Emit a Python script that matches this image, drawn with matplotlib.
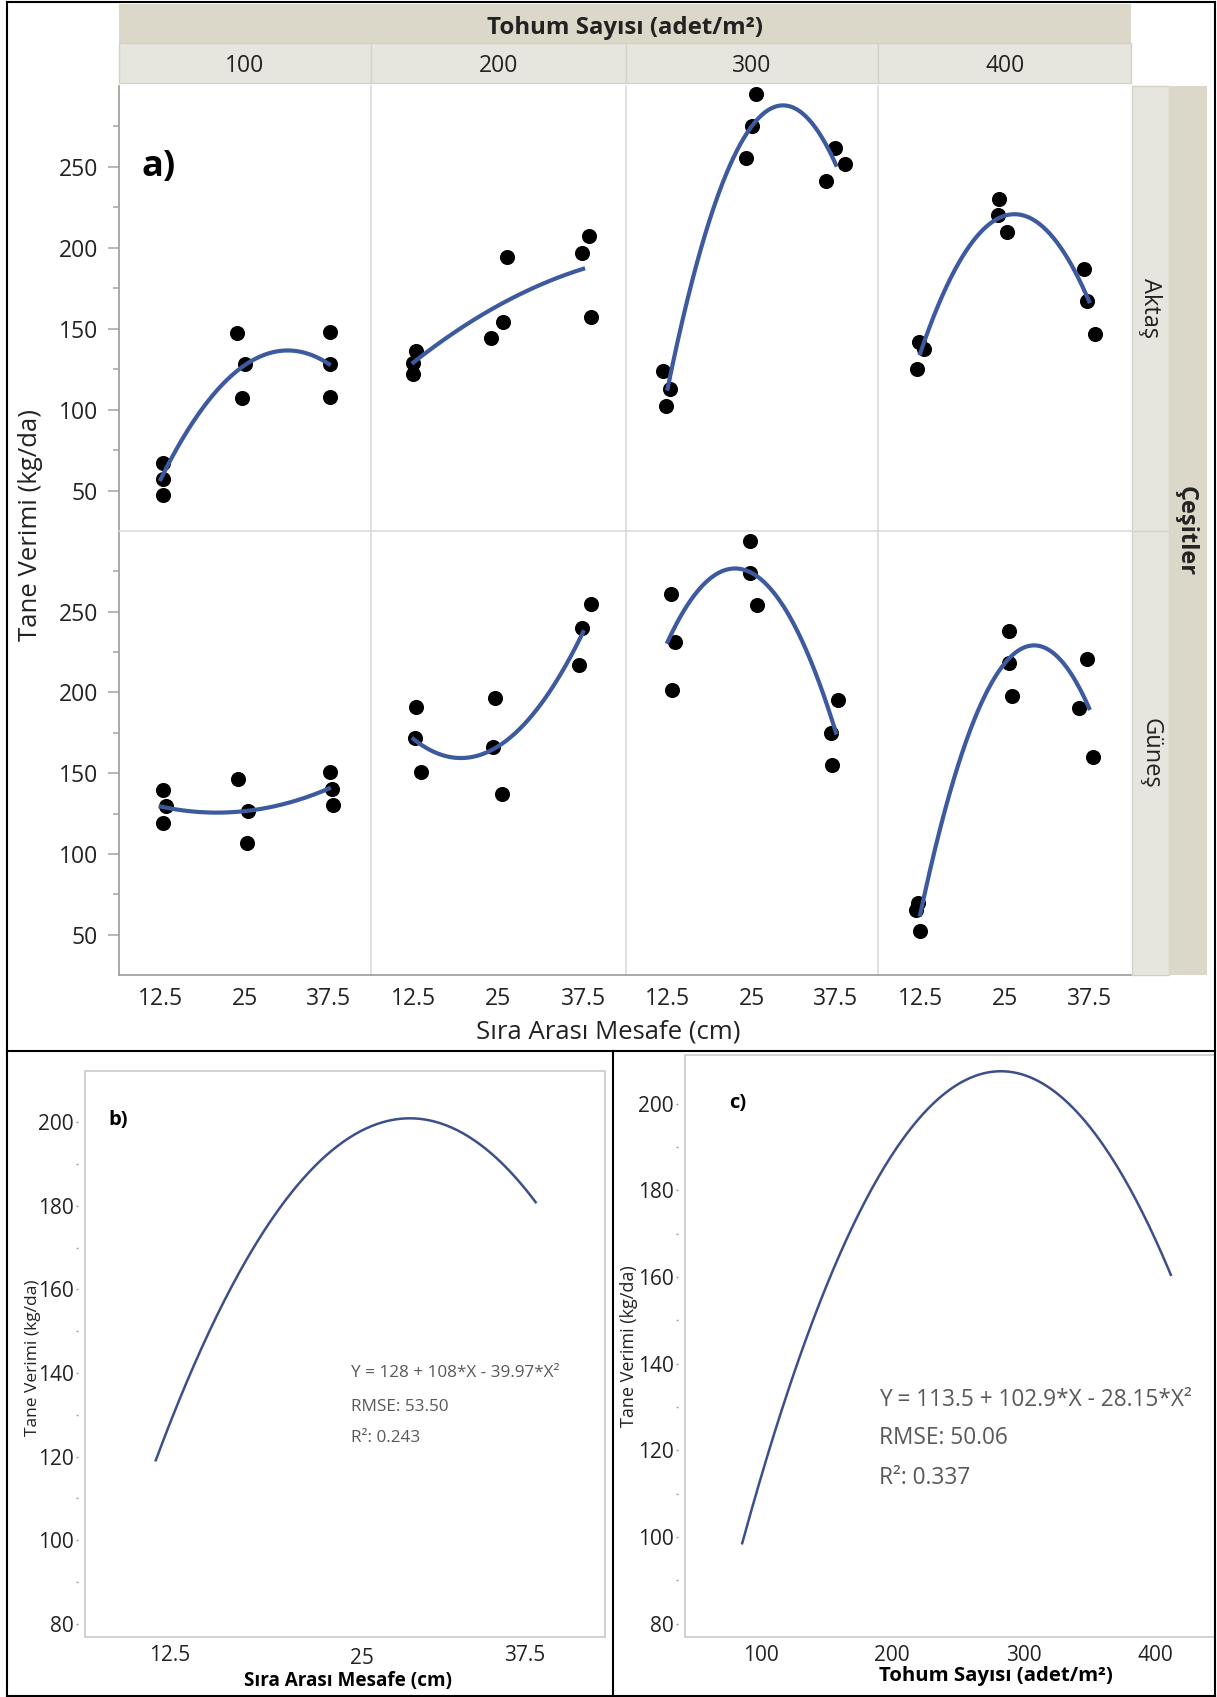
from __future__ import annotations

import matplotlib

matplotlib.use("Agg")
import matplotlib.pyplot as plt
import matplotlib.transforms as mtransforms
import numpy as np
from matplotlib.patches import Rectangle
from matplotlib.ticker import FixedLocator

plt.rcParams["font.family"] = ["Open Sans", "DejaVu Sans"]

# ---------------------------------------------------------------------------
# Data
# ---------------------------------------------------------------------------

seed_counts = [100, 200, 300, 400]          # Tohum Sayısı (adet/m2)
varieties = ["Aktaş", "Güneş"]              # Çeşitler
row_spacing = [12.5, 25, 37.5]              # Sıra Arası Mesafe (cm)
spacing_labels = ["12.5", "25", "37.5"]

# Tane verimi (kg/da), three plots per spacing: [12.5 x3, 25 x3, 37.5 x3]
aktas_100 = [67, 57, 47, 147.5, 128, 107, 148, 128.5, 108]
aktas_200 = [136.5, 129, 122, 194.5, 154, 144.5, 207, 197, 157]
aktas_300 = [124, 113, 102, 295, 275, 255.5, 261.5, 251.5, 241]
aktas_400 = [142, 137.5, 125, 230, 220, 209.5, 187, 167, 147]
gunes_100 = [139.5, 129.5, 119, 146.5, 126.5, 106.5, 150.5, 140.5, 130.5]
gunes_200 = [191, 171.5, 151, 196.5, 166.5, 137, 255, 240, 217]
gunes_300 = [261, 231.5, 201.5, 294, 274, 254, 195.5, 175, 155]
gunes_400 = [69.5, 65.5, 52.5, 238, 218, 198, 220.5, 190.5, 160]

# horizontal jitter of the dots (cm), same order as above
aktas_100_jit = [0.3, 0.3, 0.3, -1.1, 0.0, -0.4, 0.1, 0.2, 0.1]
aktas_200_jit = [0.4, 0.0, 0.0, 1.3, 0.7, -1.1, 0.8, -0.1, 1.1]
aktas_300_jit = [-0.7, 0.35, -0.25, 0.6, 0.1, -0.9, -0.1, 1.4, -1.4]
aktas_400_jit = [-0.2, 0.5, -0.5, -0.8, -1.0, 0.3, -0.7, -0.3, 0.9]
gunes_100_jit = [0.3, 0.8, 0.3, -1.0, 0.5, 0.4, 0.1, 0.4, 0.6]
gunes_200_jit = [0.4, 0.3, 1.1, -0.5, -0.8, 0.5, 1.1, -0.2, -0.6]
gunes_300_jit = [0.5, 1.1, 0.6, -0.2, -0.3, 0.8, 0.3, -0.8, -0.6]
gunes_400_jit = [-0.35, -0.6, 0.0, 0.6, 0.6, 1.1, -0.35, -1.5, 0.65]

# b) / c) quadratic models: Y = a + b*X + c*X^2 (X coded 0, 1, 2, ...)
b_coef = [128, 108, -39.97]
b_rmse, b_r2 = 53.50, 0.243
b_X_span = [-0.08, 2.06]
b_xticks = [12.5, 25, 37.5]

c_coef = [113.5, 102.9, -28.15]
c_rmse, c_r2 = 50.06, 0.337
c_X_span = [-0.14, 3.12]
c_xticks = [100, 200, 300, 400]

yticks_a = [50, 100, 150, 200, 250]
yticks_bc = [80, 100, 120, 140, 160, 180, 200]

# ---------------------------------------------------------------------------
# Style
# ---------------------------------------------------------------------------

W, H = 1217, 1697
TXT = "#222222"
AXIS_GRAY = "#a3a3a3"
SEP_GRAY = "#dadada"
FRAME_GRAY = "#c9c9c9"
STRIP_DARK = "#dbd8c9"
STRIP_LIGHT = "#e7e6de"
STRIP_EDGE = "#d4d2c6"
CURVE_A = "#3d5a9f"
CURVE_BC = "#3c4f8a"
EQ_GRAY = "#595959"

COL_EDGES = [118.6, 371.0, 625.5, 878.0, 1131.3]
ROW_EDGES = [86.0, 531.0, 975.0]

fig = plt.figure(figsize=(W / 100, H / 100), dpi=100)


def _px_axes(left, top, right, bottom):
    """Axes placed by pixel edges (origin top-left)."""
    return fig.add_axes([left / W, 1 - bottom / H, (right - left) / W, (bottom - top) / H])


def _model_text(coef, rmse, r2):
    a, b, c = coef
    return [f"Y = {a:g} + {b:g}*X - {abs(c):g}*X²", f"RMSE: {rmse:.2f}", f"R²: {r2:.3f}"]


# ---------------------------------------------------------------------------
# a) faceted scatter + quadratic fit
# ---------------------------------------------------------------------------

yields = {
    ("Aktaş", 100): (aktas_100, aktas_100_jit),
    ("Aktaş", 200): (aktas_200, aktas_200_jit),
    ("Aktaş", 300): (aktas_300, aktas_300_jit),
    ("Aktaş", 400): (aktas_400, aktas_400_jit),
    ("Güneş", 100): (gunes_100, gunes_100_jit),
    ("Güneş", 200): (gunes_200, gunes_200_jit),
    ("Güneş", 300): (gunes_300, gunes_300_jit),
    ("Güneş", 400): (gunes_400, gunes_400_jit),
}

x_rep = np.repeat(row_spacing, 3)
xs_fit = np.linspace(row_spacing[0], row_spacing[-1], 200)

for r, var in enumerate(varieties):
    for c, seed in enumerate(seed_counts):
        y, jit = yields[(var, seed)]
        ax = _px_axes(COL_EDGES[c], ROW_EDGES[r], COL_EDGES[c + 1], ROW_EDGES[r + 1])
        ax.set_facecolor("none")

        coef = np.polyfit(x_rep, y, 2)
        ax.scatter(x_rep + np.asarray(jit), y, s=118, color="black", linewidths=0, zorder=2)
        ax.plot(xs_fit, np.polyval(coef, xs_fit), color=CURVE_A, lw=3, zorder=3)

        ax.set_xlim(6.25, 43.75)
        ax.set_ylim(25, 300)

        for side in ("top", "right", "bottom"):
            ax.spines[side].set_visible(False)
        ax.spines["left"].set_color(AXIS_GRAY if c == 0 else SEP_GRAY)
        ax.spines["left"].set_linewidth(1.3 if c == 0 else 1.2)
        if r == 1:
            ax.spines["top"].set_visible(True)
            ax.spines["top"].set_color(SEP_GRAY)
            ax.spines["top"].set_linewidth(1.2)
            ax.spines["bottom"].set_visible(True)
            ax.spines["bottom"].set_color(AXIS_GRAY)
            ax.spines["bottom"].set_linewidth(1.3)

        if c == 0:
            ax.set_yticks(yticks_a)
            ax.yaxis.set_minor_locator(FixedLocator([75, 125, 175, 225, 275]))
            ax.tick_params(axis="y", which="major", length=8, width=1.1, color=AXIS_GRAY,
                           labelsize=16.5, labelcolor=TXT, pad=7)
            ax.tick_params(axis="y", which="minor", length=4, width=1.1, color=AXIS_GRAY)
        else:
            ax.tick_params(axis="y", which="both", left=False, labelleft=False)

        if r == 1:
            ax.set_xticks(row_spacing, spacing_labels)
            ax.tick_params(axis="x", length=0, pad=8.5, labelsize=16.5, labelcolor=TXT)
        else:
            ax.set_xticks([])

# ---------------------------------------------------------------------------
# b) yield vs row spacing
# ---------------------------------------------------------------------------

axb = _px_axes(84.5, 1070.5, 605, 1637)
Xb = np.linspace(b_X_span[0], b_X_span[1], 200)
axb.plot(12.5 * (1 + Xb), np.polyval(b_coef[::-1], Xb), color=CURVE_BC, lw=1.8)
axb.set_xlim(6.48, 43.13)
axb.set_ylim(76.8, 212.4)

# ---------------------------------------------------------------------------
# c) yield vs seed count
# ---------------------------------------------------------------------------

axc = _px_axes(685, 1054.5, 1215, 1637)
Xc = np.linspace(c_X_span[0], c_X_span[1], 200)
axc.plot(100 * (1 + Xc), np.polyval(c_coef[::-1], Xc), color=CURVE_BC, lw=1.8)
axc.set_xlim(42.5, 445.6)
axc.set_ylim(76.9, 211.4)

for ax_, out_pt, xt, xpad in ((axb, 4.9, b_xticks, 6.0), (axc, 5.4, c_xticks, 5.5)):
    for side in ("top", "right", "bottom", "left"):
        ax_.spines[side].set_visible(False)
    ax_.spines["left"].set_position(("outward", out_pt))
    ax_.add_patch(Rectangle((0, 0), 1, 1, transform=ax_.transAxes, fill=False,
                            ec=FRAME_GRAY, lw=1.2, clip_on=False))
    ax_.set_yticks(yticks_bc)
    ax_.yaxis.set_minor_locator(FixedLocator([90, 110, 130, 150, 170, 190]))
    ax_.tick_params(axis="y", which="both", direction="out", length=1.8, width=1,
                    color="#9a9a9a", pad=0.8, labelsize=15, labelcolor=TXT)
    ax_.set_xticks(xt, [f"{v:g}" for v in xt])
    ax_.tick_params(axis="x", length=0, pad=xpad, labelsize=15, labelcolor=TXT)

# the middle tick label of b) sits lower and to the right in the original
lbl = axb.get_xticklabels()[1]
lbl.set_transform(lbl.get_transform()
                  + mtransforms.ScaledTranslation(14 / 100, -3 / 100, fig.dpi_scale_trans))

# ---------------------------------------------------------------------------
# Overlay: strips, labels, table borders (pixel coordinates)
# ---------------------------------------------------------------------------

ov = fig.add_axes([0, 0, 1, 1], zorder=10)
ov.set_xlim(0, W)
ov.set_ylim(H, 0)
ov.axis("off")

ov.add_patch(Rectangle((COL_EDGES[0], 4), COL_EDGES[-1] - COL_EDGES[0], 39.3,
                       fc=STRIP_DARK, ec="none"))
ov.text((COL_EDGES[0] + COL_EDGES[-1]) / 2, 28.5, "Tohum Sayısı (adet/m²)", ha="center",
        va="center", fontsize=17.3, fontweight="bold", color=TXT)
for c, seed in enumerate(seed_counts):
    ov.add_patch(Rectangle((COL_EDGES[c], 43.3), COL_EDGES[c + 1] - COL_EDGES[c], 40,
                           fc=STRIP_LIGHT, ec=STRIP_EDGE, lw=1))
    ov.text((COL_EDGES[c] + COL_EDGES[c + 1]) / 2, 66.5, str(seed), ha="center", va="center",
            fontsize=16.5, color=TXT)

for r, var in enumerate(varieties):
    ov.add_patch(Rectangle((1131.7, ROW_EDGES[r]), 37.3, ROW_EDGES[r + 1] - ROW_EDGES[r],
                           fc=STRIP_LIGHT, ec=STRIP_EDGE, lw=1))
    ov.text(1150.5, (ROW_EDGES[r] + ROW_EDGES[r + 1]) / 2, var, rotation=270, ha="center",
            va="center", fontsize=17, color=TXT)
ov.add_patch(Rectangle((1169, ROW_EDGES[0]), 37.7, ROW_EDGES[-1] - ROW_EDGES[0],
                       fc=STRIP_DARK, ec="none"))
ov.text(1186, ROW_EDGES[1], "Çeşitler", rotation=270, ha="center", va="center",
        fontsize=17, fontweight="bold", color=TXT)

ov.text(31, 525, "Tane Verimi (kg/da)", rotation=90, ha="center", va="center",
        fontsize=18.5, color=TXT)
ov.text(608, 1032, "Sıra Arası Mesafe (cm)", ha="center", va="center", fontsize=18.5, color=TXT)
ov.text(159, 167, "a)", ha="center", va="center", fontsize=26, fontweight="bold", color="black")

# b) texts
ov.text(118.6, 1119.6, "b)", ha="center", va="center", fontsize=14.5, fontweight="bold")
for line, yy in zip(_model_text(b_coef, b_rmse, b_r2), (1373, 1406.6, 1438)):
    ov.text(350.7, yy, line, ha="left", va="center", fontsize=12.3, color=EQ_GRAY)
ov.text(33, 1358, "Tane Verimi (kg/da)", rotation=90, ha="center", va="center",
        fontsize=12.5, color=TXT)
ov.text(348, 1681, "Sıra Arası Mesafe (cm)", ha="center", va="center", fontsize=13.6,
        fontweight="bold", color="black")

# c) texts
ov.text(737.7, 1102.8, "c)", ha="center", va="center", fontsize=14.5, fontweight="bold")
for line, yy in zip(_model_text(c_coef, c_rmse, c_r2), (1400, 1438, 1477.8)):
    ov.text(878.6, yy, line, ha="left", va="center", fontsize=16.3, color=EQ_GRAY)
ov.text(629, 1346, "Tane Verimi (kg/da)", rotation=90, ha="center", va="center",
        fontsize=13, color=TXT)
ov.text(996, 1676, "Tohum Sayısı (adet/m²)", ha="center", va="center", fontsize=14.7,
        fontweight="bold", color="black")

# table borders
border = dict(color="black", lw=1.5, solid_capstyle="projecting")
ov.plot([7.3, 1214.5], [1.7, 1.7], **border)
ov.plot([7.3, 7.3], [1.7, 1695.7], **border)
ov.plot([1214.5, 1214.5], [1.7, 1695.7], **border)
ov.plot([7.3, 1214.5], [1051, 1051], **border)
ov.plot([613, 613], [1051, 1695.7], **border)
ov.plot([7.3, 1214.5], [1695.7, 1695.7], **border)

fig.savefig("out.png", dpi=100)
